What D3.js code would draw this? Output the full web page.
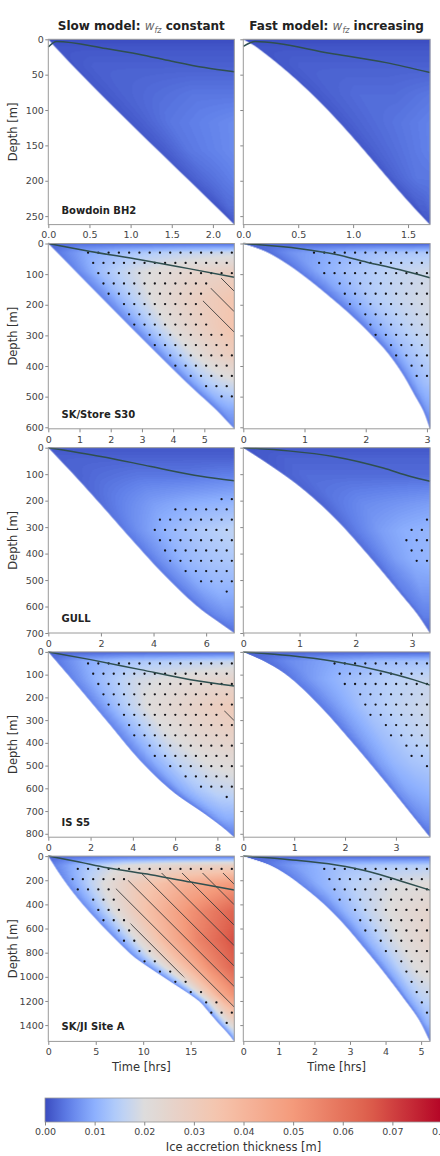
<!DOCTYPE html>
<html>
<head>
<meta charset="utf-8">
<script src="https://cdn.jsdelivr.net/npm/d3@7"></script>
<style>
  body { margin: 0; background: #fff; }
  svg { display: block; }
  svg text { font-family: "DejaVu Sans", sans-serif; }
</style>
</head>
<body>
<div id="chart"></div>
<script>
// ---- data ----
var sites = ["Bowdoin BH2", "SK/Store S30", "GULL", "IS S5", "SK/JI Site A"];
var depthMax = [262, 605, 700, 815, 1535];
var depthTicks = [
  [0, 50, 100, 150, 200, 250],
  [0, 100, 200, 300, 400, 500, 600],
  [0, 100, 200, 300, 400, 500, 600, 700],
  [0, 100, 200, 300, 400, 500, 600, 700, 800],
  [0, 200, 400, 600, 800, 1000, 1200, 1400]
];
var timeMaxSlow = [2.26, 5.96, 7.07, 8.8, 19.6];
var timeMaxFast = [1.70, 3.05, 3.32, 3.67, 5.25];
var timeTicksSlow = [[0, 0.5, 1, 1.5, 2], [0, 1, 2, 3, 4, 5], [0, 2, 4, 6], [0, 2, 4, 6, 8], [0, 5, 10, 15]];
var timeTicksFast = [[0, 0.5, 1, 1.5], [0, 1, 2, 3], [0, 1, 2, 3], [0, 1, 2, 3], [0, 1, 2, 3, 4, 5]];

// lower edge of the filled wedge, [time hrs, depth m]
var edgeSlow = [
  [[0, 0], [0.1, 13], [2.26, 262]],
  [[0, 0], [1.35, 140], [2.9, 300], [4.6, 470], [5.4, 545], [5.96, 605]],
  [[0, 0], [1.0, 105], [2.0, 215], [3.2, 350], [4.5, 490], [5.8, 610], [6.5, 660], [7.07, 700]],
  [[0, 0], [1.2, 130], [2.8, 307], [4.4, 483], [5.9, 615], [7.5, 719], [8.3, 775], [8.8, 815]],
  [[0, 0], [1, 125], [2, 238], [3, 340], [4, 433], [5, 520], [6, 603], [7, 683], [8, 760], [9, 833], [10, 890],
   [11, 943], [12, 995], [13, 1047], [14, 1098], [15, 1150], [16, 1210], [17, 1300], [18, 1390], [19, 1475], [19.6, 1535]]
];
var edgeFast = [
  [[0, 0], [0.12, 11], [1.7, 262]],
  [[0, 0], [0.35, 25], [0.71, 66], [1.05, 115], [1.42, 175], [1.75, 232], [2.05, 290], [2.35, 355], [2.6, 425], [2.8, 495], [2.95, 550], [3.05, 605]],
  [[0, 0], [0.42, 58], [1.0, 146], [1.6, 260], [2.2, 400], [2.8, 552], [3.1, 630], [3.32, 700]],
  [[0, 0], [0.4, 40], [0.8, 93], [1.45, 225], [2.1, 387], [2.75, 560], [3.4, 740], [3.67, 815]],
  [[0, 0], [0.74, 74], [1.2, 150], [1.68, 253], [2.24, 390], [2.8, 555], [3.36, 748], [3.92, 950], [4.49, 1170], [4.95, 1360], [5.25, 1535]]
];

// dark curve
var lineSlow = [
  [[0, 11], [0.1, 3], [0.7, 13], [1.1, 21], [1.5, 31], [1.9, 40], [2.26, 46]],
  [[0, 0], [1.35, 26], [2.95, 53], [4.5, 82], [5.96, 110]],
  [[0, 0], [2.0, 33], [3.9, 71], [5.8, 108], [7.07, 125]],
  [[0, 0], [2.0, 34], [4.36, 78], [6.73, 122], [8.8, 150]],
  [[0, 0], [3, 45], [6.2, 97], [10.8, 155], [15, 215], [19.6, 280]]
];
var lineFast = [
  [[0, 10], [0.11, 3], [0.8, 20], [1.3, 33], [1.7, 47]],
  [[0, 0], [0.93, 17], [1.5, 35], [2.02, 61], [2.56, 86], [3.05, 112]],
  [[0, 0], [0.8, 12], [1.6, 33], [2.49, 77], [2.96, 108], [3.32, 127]],
  [[0, 0], [0.9, 16], [1.77, 41], [2.75, 86], [3.34, 122], [3.67, 146]],
  [[0, 0], [1.3, 30], [2.61, 74], [3.55, 129], [4.49, 212], [5.25, 282]]
];

// stippled region outlines, [time, depth]
var stippleSlow = [
  [],
  [[1.1, 15], [6.2, 15], [6.2, 518], [5.38, 518], [5.38, 503], [4.89, 468], [4.39, 435], [3.91, 402], [3.75, 368], [3.26, 335],
   [3.11, 300], [2.6, 266], [2.45, 233], [2.28, 199], [1.77, 167], [1.61, 132], [1.47, 99], [1.29, 66], [1.13, 32]],
  [[6.4, 180], [7.3, 180], [7.3, 560], [6.6, 560], [6.6, 545], [5.6, 506], [5.05, 468], [4.45, 428], [4.25, 389], [4.03, 351],
   [3.85, 310], [4.03, 272], [4.63, 235], [6.4, 197]],
  [[1.6, 30], [9.2, 30], [9.2, 660], [8.2, 660], [8.2, 640], [7.0, 593], [6.29, 549], [5.54, 505], [4.83, 458], [4.58, 414],
   [3.86, 370], [3.6, 323], [3.36, 278], [2.62, 230], [2.38, 186], [2.13, 142], [1.88, 98], [1.64, 53]],
  [[2.6, 80], [20, 80], [20, 1410], [18.36, 1410], [18.36, 1375], [16.64, 1293], [16.06, 1211], [14.46, 1123], [12.86, 1038],
   [11.2, 953], [9.56, 868], [8.96, 786], [7.41, 696], [6.86, 614], [5.3, 532], [4.71, 450], [3.96, 362], [2.59, 280], [2.06, 192], [2.59, 109]]
];
var stippleFast = [
  [],
  [[1.05, 15], [3.3, 15], [3.3, 450], [2.75, 450], [2.75, 435], [2.66, 402], [2.42, 368], [2.33, 335], [2.07, 300], [1.99, 266],
   [1.91, 233], [1.66, 199], [1.57, 167], [1.49, 132], [1.24, 99], [1.16, 66], [1.07, 32]],
  [[3.17, 255], [3.5, 255], [3.5, 445], [2.99, 445], [2.99, 428], [2.89, 389], [2.81, 351], [2.89, 310], [3.17, 272]],
  [[1.67, 30], [3.9, 30], [3.9, 525], [3.5, 525], [3.5, 505], [3.19, 458], [3.1, 414], [2.8, 370], [2.7, 323], [2.39, 278],
   [2.29, 230], [2.19, 186], [1.89, 142], [1.79, 98], [1.69, 53]],
  [[2.1, 75], [5.5, 75], [5.5, 1330], [5.0, 1330], [5.0, 1298], [4.86, 1215], [4.72, 1128], [4.58, 1042], [4.44, 957], [4.16, 872],
   [3.86, 789], [3.71, 699], [3.29, 616], [3.13, 534], [2.99, 451], [2.55, 363], [2.41, 281], [2.26, 192], [2.12, 107]]
];

// hatched region outlines
var hatchSlow = [
  [],
  [[5.6, 108], [6.2, 98], [6.2, 350], [5.95, 340], [5.6, 300], [5.15, 266], [4.95, 233], [4.9, 200], [5.05, 163], [5.35, 130]],
  [],
  [[8.8, 195], [9.2, 195], [9.2, 320], [8.5, 300], [8.3, 260], [8.8, 235]],
  [[9.5, 140], [20, 140], [20, 1255], [18.3, 1211], [16.6, 1123], [15.0, 1038], [13.4, 953], [11.8, 868], [11.2, 786], [9.6, 696],
   [9.0, 614], [8.5, 532], [8.0, 450], [7.4, 362], [6.9, 280], [8.6, 192]]
];
var hatchFast = [[], [], [], [], []];

// ice accretion thickness (mm) on a coarse grid:
// columns = fraction across the wedge from its edge to the last time, rows = fraction of max depth
var gridS = [0, 0.15, 0.4, 0.7, 1];
var gridV = [0, 0.05, 0.15, 0.3, 0.45, 0.6, 0.75, 0.9, 1];
var thickSlowMM = [
  [[0,0,0,0,0],[1,1,1,1,1],[1,2,2,2,2],[1,2,3,4,4],[1,2,4,5,6],[1,2,4,5,6],[1,2,3,4,5],[1,1,2,3,3],[0,0,1,1,1]],
  [[2,3,3,3,3],[4,9,13,16,18],[5,12,19,24,28],[5,12,21,28,34],[5,12,21,28,35],[5,11,18,25,30],[5,9,14,17,19],[4,6,8,9,9],[3,4,5,5,5]],
  [[1,1,1,1,1],[2,2,2,2,2],[2,3,4,4,5],[3,5,8,10,11],[4,7,11,14,16],[4,7,11,13,14],[4,6,9,11,11],[3,5,6,7,7],[2,3,3,3,3]],
  [[2,2,2,2,2],[4,9,13,15,17],[5,11,18,22,25],[5,12,21,26,31],[5,11,19,24,27],[5,10,16,20,22],[4,9,13,16,17],[4,7,9,10,10],[3,4,4,4,4]],
  [[2,3,3,3,3],[5,12,20,25,28],[6,16,30,42,50],[6,18,36,52,64],[6,18,38,56,68],[6,17,35,52,64],[6,15,30,44,52],[5,10,16,22,26],[3,5,6,7,7]]
];
var thickFastMM = [
  [[0,0,0,0,0],[1,1,1,1,1],[1,2,2,2,2],[1,2,3,3,4],[1,2,3,4,5],[1,2,3,4,5],[1,2,3,4,4],[1,1,2,2,3],[0,0,1,1,1]],
  [[2,2,2,2,2],[3,7,10,13,14],[4,9,13,16,18],[4,9,14,17,19],[4,9,13,16,18],[4,8,12,14,16],[4,7,10,12,13],[3,5,7,8,8],[2,3,3,3,3]],
  [[1,1,1,1,1],[1,2,2,2,2],[2,3,3,3,3],[2,4,6,7,8],[3,5,8,10,11],[3,5,8,10,11],[3,5,6,8,8],[2,4,5,5,5],[2,2,2,2,2]],
  [[2,2,2,2,2],[3,6,9,12,13],[4,8,12,15,17],[4,8,13,16,18],[4,8,12,15,17],[4,8,11,13,14],[4,7,9,10,11],[3,5,6,7,7],[2,3,3,3,3]],
  [[2,2,2,2,2],[4,8,12,14,15],[5,10,15,19,21],[5,11,17,22,25],[5,11,17,22,25],[5,10,16,20,22],[4,9,13,16,17],[4,7,9,11,11],[2,3,3,3,3]]
];

var cbTicks = [0, 0.01, 0.02, 0.03, 0.04, 0.05, 0.06, 0.07, 0.08];
var coolwarmStops = ["#3b4cc0", "#6282ea", "#8db0fe", "#b8d0f9", "#dddcdc", "#f5c4ad", "#f49a7b", "#de604d", "#b40426"];

// ---- layout ----
var colX = [48.3, 243.3], colW = [186, 186.7];
var rowTop = [39.3, 243.5, 447.7, 651.9, 856.1], rowH = 185.3;
var dotStep = 10.27, dotX0 = 5.9, dotY0 = 6.2;
var hatchStep = 20.45, hatchC0 = 16.1;

var svg = d3.select("#chart").append("svg")
    .attr("width", 440)
    .attr("height", 1156);
var defs = svg.append("defs");

var coolwarm = d3.scaleLinear()
    .domain(d3.range(coolwarmStops.length).map(function(i) { return i / (coolwarmStops.length - 1); }))
    .range(coolwarmStops)
    .interpolate(d3.interpolateRgb);
var norm = d3.scaleLinear().domain([0, 0.02, 0.08]).range([0, 0.5, 1]).clamp(true);
function colorOf(v) { return coolwarm(norm(v)); }

// lookup table for the pixel loop
var lut = d3.range(256).map(function(i) { return d3.rgb(colorOf(i / 255 * 0.08)); });

function sampleField(grid, s, v) {
  var i = Math.max(0, Math.min(gridV.length - 2, d3.bisectRight(gridV, v) - 1));
  var j = Math.max(0, Math.min(gridS.length - 2, d3.bisectRight(gridS, s) - 1));
  var fv = Math.max(0, Math.min(1, (v - gridV[i]) / (gridV[i + 1] - gridV[i])));
  var fs = Math.max(0, Math.min(1, (s - gridS[j]) / (gridS[j + 1] - gridS[j])));
  var a = grid[i][j] * (1 - fs) + grid[i][j + 1] * fs;
  var b = grid[i + 1][j] * (1 - fs) + grid[i + 1][j + 1] * fs;
  return (a * (1 - fv) + b * fv) / 1000;
}

// smooth monotone curve through the edge points (time as a function of depth)
function smoothEdge(pts) {
  var xs = pts.map(function(p) { return p[1]; }), ys = pts.map(function(p) { return p[0]; });
  var n = xs.length, dx = [], m = [], c1 = [];
  for (var i = 0; i < n - 1; i++) { dx[i] = xs[i + 1] - xs[i]; m[i] = (ys[i + 1] - ys[i]) / dx[i]; }
  c1[0] = m[0];
  for (i = 1; i < n - 1; i++) {
    if (m[i - 1] * m[i] <= 0) c1[i] = 0;
    else {
      var common = dx[i - 1] + dx[i];
      c1[i] = 3 * common / ((common + dx[i]) / m[i - 1] + (common + dx[i - 1]) / m[i]);
    }
  }
  c1[n - 1] = m[n - 2];
  return function(x) {
    if (x <= xs[0]) return ys[0];
    if (x >= xs[n - 1]) return ys[n - 1];
    var k = Math.min(n - 2, d3.bisectRight(xs, x) - 1);
    var h = dx[k], t = (x - xs[k]) / h, t2 = t * t, t3 = t2 * t;
    return (2 * t3 - 3 * t2 + 1) * ys[k] + (t3 - 2 * t2 + t) * h * c1[k] +
           (-2 * t3 + 3 * t2) * ys[k + 1] + (t3 - t2) * h * c1[k + 1];
  };
}

function drawPanel(r, c) {
  var x0 = colX[c], w = colW[c], y0 = rowTop[r], h = rowH;
  var tmax = c == 0 ? timeMaxSlow[r] : timeMaxFast[r];
  var dmax = depthMax[r];
  var x = d3.scaleLinear().domain([0, tmax]).range([x0, x0 + w]);
  var y = d3.scaleLinear().domain([0, dmax]).range([y0, y0 + h]);
  var edge = (c == 0 ? edgeSlow : edgeFast)[r];
  var grid = (c == 0 ? thickSlowMM : thickFastMM)[r];
  var edgeT = smoothEdge(edge);
  var pxPerHr = w / tmax;

  // colour field
  var cw = Math.round(w), ch = Math.round(h);
  var canvas = document.createElement("canvas");
  canvas.width = cw; canvas.height = ch;
  var ctx = canvas.getContext("2d");
  var img = ctx.createImageData(cw, ch);
  for (var py = 0; py < ch; py++) {
    var d = y.invert(y0 + py + 0.5);
    var tb = edgeT(d);
    for (var px = 0; px < cw; px++) {
      var t = x.invert(x0 + px + 0.5);
      var cover = Math.max(0, Math.min(1, (t - tb) * pxPerHr / 1.4 + 0.5));
      if (cover <= 0) continue;
      var s = tmax - tb > 1e-6 ? Math.max(0, (t - tb) / (tmax - tb)) : 1;
      var val = sampleField(grid, Math.min(1, s), d / dmax);
      var col = lut[Math.max(0, Math.min(255, Math.round(val / 0.08 * 255)))];
      var k = (py * cw + px) * 4;
      img.data[k] = col.r; img.data[k + 1] = col.g; img.data[k + 2] = col.b;
      img.data[k + 3] = Math.round(cover * 255);
    }
  }
  ctx.putImageData(img, 0, 0);
  svg.append("image")
      .attr("x", x0).attr("y", y0)
      .attr("width", cw).attr("height", ch)
      .attr("preserveAspectRatio", "none")
      .attr("href", canvas.toDataURL());

  var g = svg.append("g");
  var hatch = (c == 0 ? hatchSlow : hatchFast)[r];
  var stip = (c == 0 ? stippleSlow : stippleFast)[r];

  // hatching
  if (hatch.length) {
    var id = "hatch-" + r + "-" + c;
    defs.append("clipPath").attr("id", id)
      .append("polygon")
        .attr("points", hatch.map(function(p) { return x(Math.min(p[0], tmax)) + "," + y(Math.min(p[1], dmax)); }).join(" "));
    var hg = g.append("g").attr("clip-path", "url(#" + id + ")");
    var kMin = Math.floor((y0 - (x0 + w) - hatchC0) / hatchStep);
    var kMax = Math.ceil((y0 + h - x0 - hatchC0) / hatchStep);
    hg.selectAll("line").data(d3.range(kMin, kMax + 1)).enter().append("line")
        .attr("x1", x0).attr("y1", function(k) { return x0 + hatchC0 + k * hatchStep; })
        .attr("x2", x0 + w).attr("y2", function(k) { return x0 + w + hatchC0 + k * hatchStep; })
        .attr("stroke", "#3c3c3c")
        .attr("stroke-width", 0.9);
  }

  // stippling
  if (stip.length) {
    var dots = [];
    var j0 = Math.ceil((y0 - dotY0) / dotStep), j1 = Math.floor((y0 + h - dotY0) / dotStep);
    for (var j = j0; j <= j1; j++) {
      var off = (j % 2 ? dotStep / 2 : 0);
      var dy = dotY0 + j * dotStep;
      var k0 = Math.ceil((x0 - dotX0 - off) / dotStep), k1 = Math.floor((x0 + w - dotX0 - off) / dotStep);
      for (var k = k0; k <= k1; k++) {
        var dx = dotX0 + off + k * dotStep;
        if (dx < x0 + 1.5 || dx > x0 + w - 1.5 || dy < y0 + 1.5 || dy > y0 + h - 1.5) continue;
        var pt = [x.invert(dx), y.invert(dy)];
        if (!d3.polygonContains(stip, pt)) continue;
        if (hatch.length && d3.polygonContains(hatch, pt)) continue;
        dots.push([dx, dy]);
      }
    }
    g.selectAll("circle").data(dots).enter().append("circle")
        .attr("cx", function(p) { return p[0]; })
        .attr("cy", function(p) { return p[1]; })
        .attr("r", 1.15)
        .attr("fill", "#141418");
  }

  // dark curve
  var line = d3.line()
      .x(function(p) { return x(p[0]); })
      .y(function(p) { return y(p[1]); })
      .curve(d3.curveMonotoneX);
  g.append("path")
      .datum((c == 0 ? lineSlow : lineFast)[r])
      .attr("d", line)
      .attr("fill", "none")
      .attr("stroke", "#2f4f4f")
      .attr("stroke-width", 1.5);

  // axes
  var ticksT = (c == 0 ? timeTicksSlow : timeTicksFast)[r];
  var xAxis = d3.axisBottom(x)
      .tickValues(ticksT)
      .tickFormat(d3.format(r == 0 ? ".1f" : "d"))
      .tickSize(3.5)
      .tickPadding(3.5);
  var yAxis = d3.axisLeft(y)
      .tickValues(depthTicks[r])
      .tickFormat(c == 1 ? "" : d3.format("d"))
      .tickSize(3)
      .tickPadding(1.5);

  var ax = svg.append("g").attr("transform", "translate(0," + (y0 + h) + ")").call(xAxis);
  var ay = svg.append("g").attr("transform", "translate(" + x0 + ",0)").call(yAxis);
  [ax, ay].forEach(function(a) {
    a.select(".domain").remove();
    a.selectAll(".tick line").attr("stroke", "#888");
    a.selectAll(".tick text")
        .attr("fill", "#444")
        .style("font-size", "9.5px")
        .style("font-family", "DejaVu Sans");
  });

  // frame
  svg.append("rect")
      .attr("x", x0).attr("y", y0)
      .attr("width", w).attr("height", h)
      .attr("fill", "none")
      .attr("stroke", "#9a9a9a")
      .attr("stroke-width", 1);

  if (c == 0) {
    svg.append("text")
        .attr("x", 61.5).attr("y", y0 + h - 11)
        .attr("font-weight", "bold")
        .attr("font-size", "10px")
        .attr("fill", "#222")
        .text(sites[r]);
    svg.append("text")
        .attr("transform", "translate(13," + (y0 + h / 2) + ") rotate(-90)")
        .attr("text-anchor", "middle")
        .attr("dy", "0.35em")
        .attr("font-size", "11.5px")
        .attr("fill", "#333")
        .text("Depth [m]");
  }
  if (r == 4) {
    svg.append("text")
        .attr("x", x0 + w / 2).attr("y", 1070.5)
        .attr("text-anchor", "middle")
        .attr("font-size", "11.5px")
        .attr("fill", "#333")
        .text("Time [hrs]");
  }
}

for (var r = 0; r < 5; r++) {
  drawPanel(r, 0);
  drawPanel(r, 1);
}

// column titles
[["Slow model: ", " constant"], ["Fast model: ", " increasing"]].forEach(function(parts, c) {
  var t = svg.append("text")
      .attr("x", colX[c] + colW[c] / 2).attr("y", 30)
      .attr("text-anchor", "middle")
      .attr("font-size", "12px")
      .attr("fill", "#222");
  t.append("tspan").attr("font-weight", "bold").text(parts[0]);
  t.append("tspan").attr("font-style", "italic").attr("fill", "#666").text("w");
  t.append("tspan").attr("font-style", "italic").attr("fill", "#666")
      .attr("font-size", "8px").attr("dy", "2.5").text("fz");
  t.append("tspan").attr("font-weight", "bold").attr("dy", "-2.5").text(parts[1]);
});

// colour bar (runs past the right edge of the page, as in the original)
var cbX = d3.scaleLinear().domain([0, 0.08]).range([45, 442]);
var grad = defs.append("linearGradient").attr("id", "cbgrad")
    .attr("x1", "0%").attr("x2", "100%").attr("y1", "0%").attr("y2", "0%");
grad.selectAll("stop").data(d3.range(0, 0.08001, 0.002)).enter().append("stop")
    .attr("offset", function(v) { return (v / 0.08 * 100) + "%"; })
    .attr("stop-color", function(v) { return colorOf(v); });
svg.append("rect")
    .attr("x", cbX(0)).attr("y", 1098)
    .attr("width", cbX(0.08) - cbX(0)).attr("height", 24)
    .attr("fill", "url(#cbgrad)")
    .attr("stroke", "#9a9a9a")
    .attr("stroke-width", 0.8);
var cbAxis = svg.append("g").attr("transform", "translate(0,1122)")
    .call(d3.axisBottom(cbX).tickValues(cbTicks).tickFormat(d3.format(".2f")).tickSize(3.5).tickPadding(2.5));
cbAxis.select(".domain").remove();
cbAxis.selectAll(".tick line").attr("stroke", "#888");
cbAxis.selectAll(".tick text")
    .attr("fill", "#444")
    .style("font-size", "9.5px")
    .style("font-family", "DejaVu Sans");
svg.append("text")
    .attr("x", cbX(0.04)).attr("y", 1151)
    .attr("text-anchor", "middle")
    .attr("font-size", "11.5px")
    .attr("fill", "#333")
    .text("Ice accretion thickness [m]");
</script>
</body>
</html>
